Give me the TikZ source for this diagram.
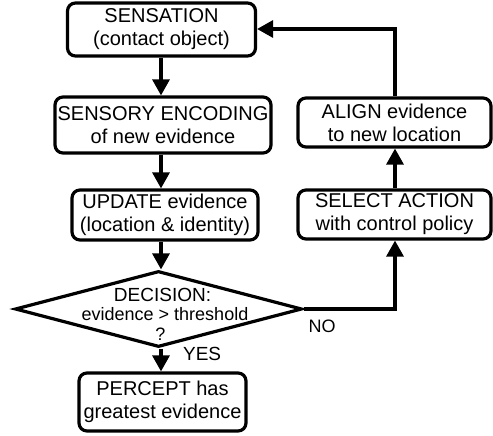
\documentclass[tikz,border=0pt]{standalone}
\usepackage{fontspec}
\setmainfont{Liberation Sans}
\usetikzlibrary{arrows.meta,shapes.geometric}
\begin{document}
\begin{tikzpicture}[x=1pt,y=-1pt,
  line width=3.2pt,
  box/.style={draw, rounded corners=8pt, align=center, inner sep=0pt,
    font=\fontsize{20}{23}\selectfont},
  arr/.style={-{Triangle[length=16pt,width=17pt]}},
  lbl/.style={inner sep=0pt, anchor=base}]
\useasboundingbox (0,0) rectangle (493,436);
\node[box, minimum width=188pt, minimum height=53pt] (sens) at (161.5,29.5) {SENSATION\\(contact object)};
\node[box, minimum width=216pt, minimum height=56pt] (enc) at (163,125) {SENSORY ENCODING\\of new evidence};
\node[box, minimum width=186pt, minimum height=50pt] (upd) at (165,215) {UPDATE evidence\\(location \& identity)};
\node[draw, diamond, minimum width=287pt, minimum height=76pt, inner sep=0pt, line join=miter] (dec) at (158.5,309) {};
\node[lbl, font=\fontsize{19}{20}\selectfont] (d1) at (162.5,301) {DECISION:};
\node[lbl, font=\fontsize{18}{20}\selectfont] (d2) at (165,320) {evidence > threshold};
\node[lbl, font=\fontsize{18}{20}\selectfont] (d3) at (160.5,340) {?};
\node[box, minimum width=167pt, minimum height=58pt] (perc) at (162.5,402) {PERCEPT has\\greatest evidence};
\node[box, minimum width=193pt, minimum height=49pt] (align) at (394.5,122.5) {ALIGN evidence\\to new location};
\node[box, minimum width=193pt, minimum height=49pt] (sel) at (394.5,214.5) {SELECT ACTION\\with control policy};
\node[lbl, anchor=base west, font=\fontsize{19}{20}\selectfont] (yes) at (181.5,360.5) {YES};
\node[lbl, anchor=base west, font=\fontsize{18}{20}\selectfont] (no) at (307,332.5) {NO};
\coordinate (c1) at (395,29);
\coordinate (c2) at (395,309);
\draw[arr] (sens.south -| 161,0) -- (enc.north -| 161,0);
\draw[arr] (enc.south -| 161,0) -- (upd.north -| 161,0);
\draw[arr] (upd.south -| 161,0) -- (dec.north -| 161,0);
\draw[arr] (dec.south -| 161,0) -- (perc.north -| 161,0);
\draw[arr] (dec.east) -- (c2) -- (sel.south -| c2);
\draw[arr] (sel.north -| c2) -- (align.south -| c2);
\draw[arr] (align.north -| c1) -- (c1) -- (sens.east |- c1);
\end{tikzpicture}
\end{document}
